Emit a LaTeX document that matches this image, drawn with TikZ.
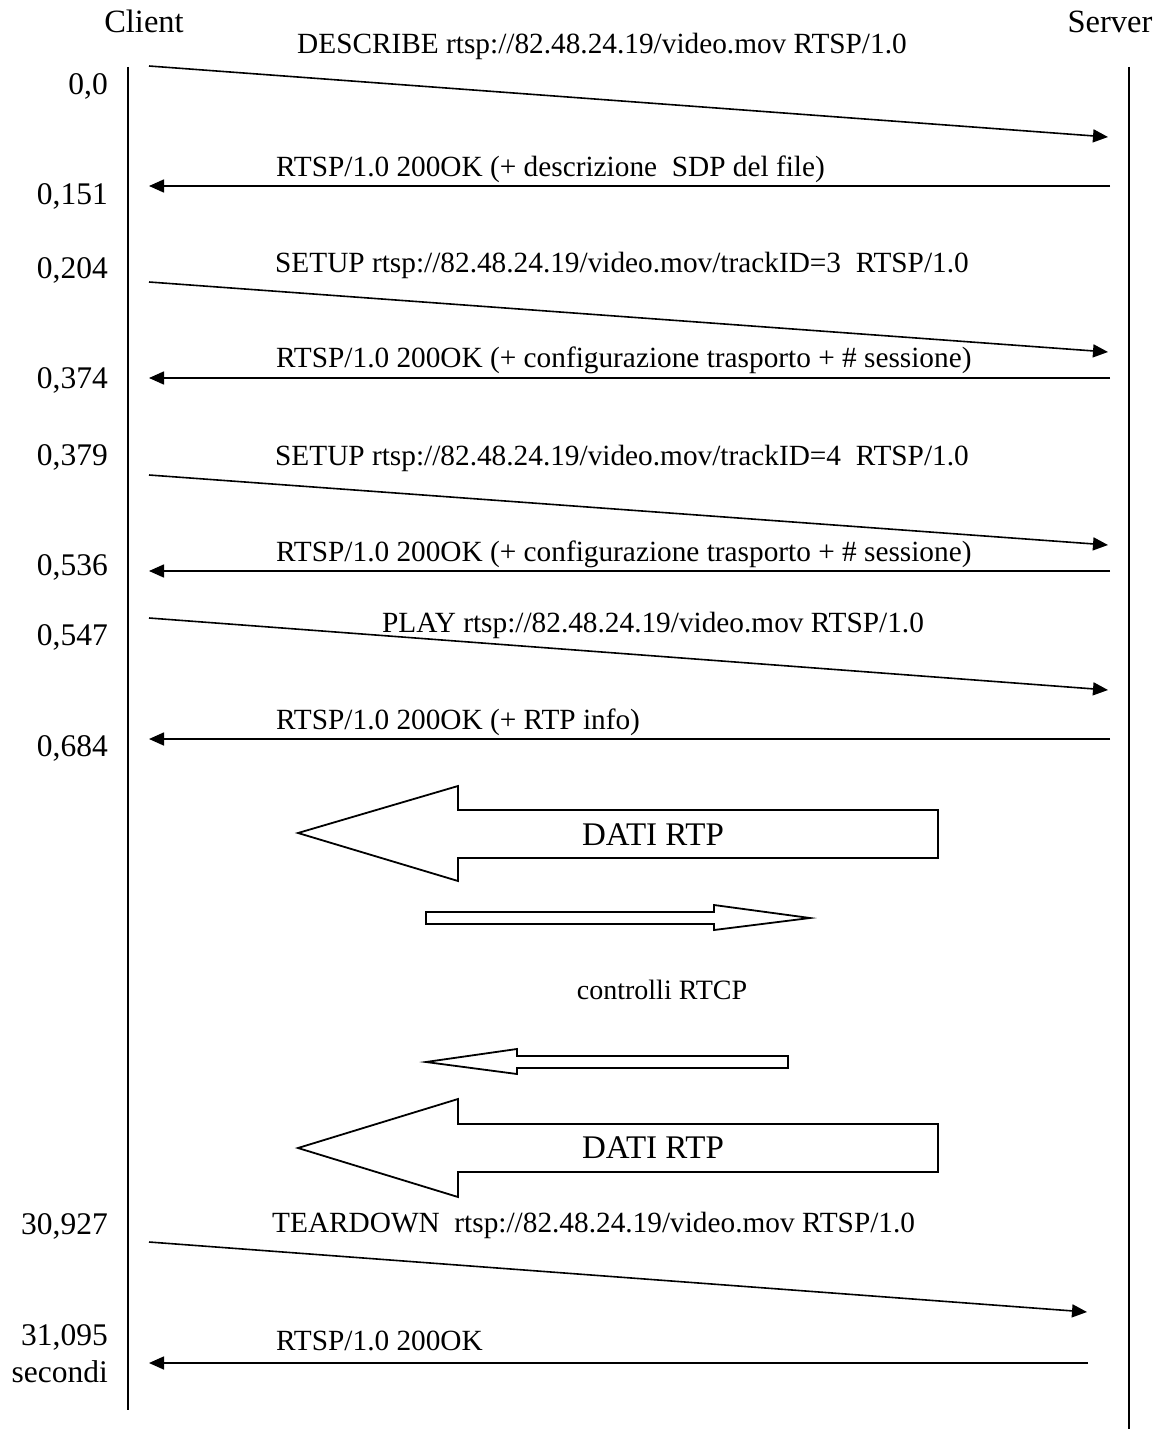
\documentclass[tikz,border=0pt]{standalone}
\usepackage{fontspec}
\setmainfont{Liberation Serif}
\usetikzlibrary{arrows.meta}
\begin{document}
\begin{tikzpicture}[x=1pt,y=-1pt,
  txt/.style={inner sep=0pt,font=\fontsize{29.3}{33}\selectfont},
  bigtxt/.style={inner sep=0pt,anchor=base,font=\fontsize{33}{37}\selectfont},
  actor/.style={inner sep=0pt,anchor=base,font=\fontsize{32.5}{36}\selectfont},
  lbl/.style={txt,anchor=base west},
  tlbl/.style={inner sep=0pt,anchor=base east,font=\fontsize{31.5}{35}\selectfont},
  msg/.style={line width=1.6pt,-{Triangle[length=15pt,width=13pt]}},
  life/.style={line width=1.5pt},
  blk/.style={line width=1.8pt,line join=miter,fill=white}]
\useasboundingbox (0,0) rectangle (1167,1429);
% actors
\node[actor] (client) at (144,33) {Client};
\node[actor] (server) at (1110,33) {Server};
% lifelines
\coordinate (cTop) at (128,67);
\coordinate (cBot) at (128,1410);
\coordinate (sTop) at (1129,67);
\coordinate (sBot) at (1129,1429);
\draw[life] (cTop) -- (cBot);
\draw[life] (sTop) -- (sBot);
% time labels
\node[tlbl] (t1) at (108,94) {0,0};
\node[tlbl] (t2) at (108,204) {0,151};
\node[tlbl] (t3) at (108,278) {0,204};
\node[tlbl] (t4) at (108,388) {0,374};
\node[tlbl] (t5) at (108,465) {0,379};
\node[tlbl] (t6) at (108,575) {0,536};
\node[tlbl] (t7) at (108,645) {0,547};
\node[tlbl] (t8) at (108,756) {0,684};
\node[tlbl] (t9) at (108,1234) {30,927};
\node[tlbl] (t10) at (108,1345) {31,095};
\node[tlbl] (t11) at (108,1382) {secondi};
% message endpoints
\coordinate (m1a) at (149,66);   \coordinate (m1b) at (1108,137);
\coordinate (m2a) at (1110,186); \coordinate (m2b) at (149,186);
\coordinate (m3a) at (149,282);  \coordinate (m3b) at (1108,352);
\coordinate (m4a) at (1110,378); \coordinate (m4b) at (149,378);
\coordinate (m5a) at (149,475);  \coordinate (m5b) at (1108,545);
\coordinate (m6a) at (1110,571); \coordinate (m6b) at (149,571);
\coordinate (m7a) at (149,618);  \coordinate (m7b) at (1108,690);
\coordinate (m8a) at (1110,739); \coordinate (m8b) at (149,739);
\coordinate (m9a) at (149,1242); \coordinate (m9b) at (1087,1312);
\coordinate (m10a) at (1088,1363); \coordinate (m10b) at (149,1363);
\draw[msg] (m1a) -- (m1b);
\draw[msg] (m2a) -- (m2b);
\draw[msg] (m3a) -- (m3b);
\draw[msg] (m4a) -- (m4b);
\draw[msg] (m5a) -- (m5b);
\draw[msg] (m6a) -- (m6b);
\draw[msg] (m7a) -- (m7b);
\draw[msg] (m8a) -- (m8b);
\draw[msg] (m9a) -- (m9b);
\draw[msg] (m10a) -- (m10b);
% message labels
\node[lbl] (l1) at (297,54) {DESCRIBE rtsp://82.48.24.19/video.mov RTSP/1.0};
\node[lbl] (l2) at (276,176) {RTSP/1.0 200OK (+ descrizione\ \ SDP del file)};
\node[lbl] (l3) at (275,272) {SETUP rtsp://82.48.24.19/video.mov/trackID=3\ \ RTSP/1.0};
\node[lbl] (l4) at (276,367) {RTSP/1.0 200OK (+ configurazione trasporto + \# sessione)};
\node[lbl] (l5) at (275,465) {SETUP rtsp://82.48.24.19/video.mov/trackID=4\ \ RTSP/1.0};
\node[lbl] (l6) at (276,561) {RTSP/1.0 200OK (+ configurazione trasporto + \# sessione)};
\node[lbl] (l7) at (382,632) {PLAY rtsp://82.48.24.19/video.mov RTSP/1.0};
\node[lbl] (l8) at (276,729) {RTSP/1.0 200OK (+ RTP info)};
\node[lbl] (l9) at (272,1232) {TEARDOWN\ \ rtsp://82.48.24.19/video.mov RTSP/1.0};
\node[lbl] (l10) at (276,1350) {RTSP/1.0 200OK};
% block arrows
\draw[blk] (298,833) -- (458,786) -- (458,810) -- (938,810) -- (938,858) -- (458,858) -- (458,881) -- cycle;
\node[bigtxt] (d1) at (653,845) {DATI RTP};
\draw[blk] (426,912) -- (714,912) -- (714,905) -- (810,918) -- (714,930) -- (714,924) -- (426,924) -- cycle;
\node[inner sep=0pt,anchor=base,font=\fontsize{28}{32}\selectfont] (rtcp) at (662,999) {controlli RTCP};
\draw[blk] (426,1062) -- (517,1049) -- (517,1056) -- (788,1056) -- (788,1068) -- (517,1068) -- (517,1074) -- cycle;
\draw[blk] (298,1148) -- (458,1099) -- (458,1124) -- (938,1124) -- (938,1172) -- (458,1172) -- (458,1197) -- cycle;
\node[bigtxt] (d2) at (653,1158) {DATI RTP};
\end{tikzpicture}
\end{document}
